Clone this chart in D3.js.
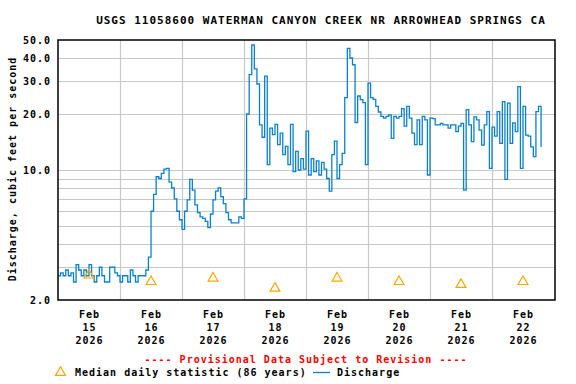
<!DOCTYPE html>
<html>
<head>
<meta charset="utf-8">
<script src="https://cdn.jsdelivr.net/npm/d3@7"></script>
<style>
	body { margin: 0; background: #ffffff; }
	svg text { font-family: "DejaVu Sans Mono", "Liberation Mono", monospace; font-weight: bold; }
</style>
</head>
<body>
<svg id="chart" width="576" height="384"></svg>
<script>
// station / labels
var chartTitle = "USGS 11058600 WATERMAN CANYON CREEK NR ARROWHEAD SPRINGS CA";
var yTitle = "Discharge, cubic feet per second";
var yTickValues = [2, 10, 20, 30, 40, 50];
var yGridValues = [3, 4, 5, 6, 7, 8, 9, 10, 20, 30, 40];
var dayLabels = ["15", "16", "17", "18", "19", "20", "21", "22"];

// median daily statistic, one per day (noon)
var medianValues = [2.72, 2.51, 2.62, 2.31, 2.62, 2.51, 2.42, 2.51];

// discharge, hourly from Feb 15 2026 00:00
var discharge = [
	2.7, 2.8, 2.7, 2.9, 2.7, 2.8, 2.5, 3.1, 2.9, 2.7, 2.9, 2.7, 3.1, 2.7, 2.5, 2.7, 3.0, 2.7, 2.5, 2.5, 3.0, 3.0, 2.8, 2.7,
	2.5, 2.7, 2.7, 2.5, 2.9, 2.7, 2.5, 2.7, 2.7, 2.7, 2.9, 3.4, 6.0, 7.4, 9.2, 9.0, 9.6, 10.1, 10.2, 8.6, 8.0, 7.0, 6.0, 5.4,
	4.8, 6.0, 6.9, 8.9, 7.8, 6.5, 5.9, 5.6, 5.5, 5.3, 4.9, 5.8, 6.9, 7.7, 8.0, 7.2, 6.6, 5.9, 5.4, 5.2, 5.2, 5.2, 5.6, 5.5,
	7.0, 20.0, 32.6, 47.0, 35.0, 29.0, 17.5, 15.0, 32.0, 10.7, 16.8, 15.5, 17.6, 13.7, 15.8, 12.1, 13.4, 10.7, 17.6, 9.8, 12.6, 10.0, 11.5, 10.1,
	16.2, 9.4, 11.5, 9.8, 11.2, 9.4, 11.0, 10.1, 9.0, 7.7, 12.1, 14.3, 9.0, 10.7, 12.3, 24.5, 45.1, 40.0, 36.8, 18.0, 25.0, 23.9, 23.0, 10.7,
	29.3, 24.5, 24.0, 22.0, 20.5, 19.4, 19.0, 19.4, 19.8, 14.8, 19.4, 19.0, 19.4, 21.4, 17.2, 22.0, 19.0, 15.8, 13.7, 18.6, 13.7, 19.4, 18.6, 9.4,
	19.0, 18.9, 17.5, 17.5, 17.8, 17.5, 17.5, 16.8, 17.5, 17.5, 16.1, 17.2, 17.8, 7.8, 21.1, 17.5, 14.2, 19.3, 18.6, 16.4, 13.6, 17.5, 20.6, 10.2,
	17.0, 15.2, 20.6, 13.9, 23.3, 8.9, 22.9, 13.9, 17.9, 16.1, 28.1, 10.2, 22.0, 15.4, 15.2, 13.3, 11.8, 20.6, 22.0, 13.3
];

var startDate = new Date(2026, 1, 15, 0, 0);
var endDate = new Date(2026, 1, 23, 0, 0);

var svg = d3.select("#chart");

var x = d3.scaleTime().domain([startDate, endDate]).range([58, 554]);
var y = d3.scaleLog().domain([2, 50]).range([300, 40]);

var days = d3.timeDay.range(startDate, endDate);

// clip for the plot area
svg.append("clipPath")
	.attr("id", "plotclip")
	.append("rect")
	.attr("x", 58)
	.attr("y", 40)
	.attr("width", 497)
	.attr("height", 260);

// grid lines
svg.append("g")
	.selectAll("line")
	.data(yGridValues)
	.enter().append("line")
	.attr("x1", 58)
	.attr("x2", 555)
	.attr("y1", function (d) { return Math.round(y(d)) + 0.5; })
	.attr("y2", function (d) { return Math.round(y(d)) + 0.5; })
	.attr("stroke", "#c8c8c8")
	.attr("stroke-width", 1.2);

svg.append("g")
	.selectAll("line")
	.data(days.slice(1))
	.enter().append("line")
	.attr("x1", function (d) { return Math.round(x(d)) + 0.5; })
	.attr("x2", function (d) { return Math.round(x(d)) + 0.5; })
	.attr("y1", 40)
	.attr("y2", 300)
	.attr("stroke", "#c8c8c8")
	.attr("stroke-width", 1.2);

// discharge line
var points = discharge.map(function (v, i) {
	return { date: d3.timeHour.offset(startDate, i), value: v };
});

var line = d3.line()
	.x(function (d) { return x(d.date); })
	.y(function (d) { return y(d.value); })
	.curve(d3.curveStepAfter);

svg.append("path")
	.datum(points)
	.attr("clip-path", "url(#plotclip)")
	.attr("d", line)
	.attr("fill", "none")
	.attr("stroke", "#0a80d0")
	.attr("stroke-width", 1.3);

// median triangles
var tri = d3.symbol().type(d3.symbolTriangle).size(42);
svg.append("g")
	.selectAll("path")
	.data(medianValues)
	.enter().append("path")
	.attr("d", tri)
	.attr("transform", function (d, i) {
		return "translate(" + x(d3.timeHour.offset(days[i], 12)) + "," + y(d) + ")";
	})
	.attr("fill", "none")
	.attr("stroke", "#ffa500")
	.attr("stroke-width", 1.2);

// frame
svg.append("rect")
	.attr("x", 58)
	.attr("y", 40)
	.attr("width", 497)
	.attr("height", 260)
	.attr("fill", "none")
	.attr("stroke", "#000000")
	.attr("stroke-width", 1.5);

// y tick labels
svg.append("g")
	.selectAll("text")
	.data(yTickValues)
	.enter().append("text")
	.attr("x", 51)
	.attr("y", function (d) { return y(d) + 4; })
	.attr("text-anchor", "end")
	.attr("font-size", "10px")
	.attr("letter-spacing", "1px")
	.text(function (d) { return d.toFixed(1); });

// x tick labels
var xl = svg.append("g")
	.selectAll("text")
	.data(days)
	.enter().append("text")
	.attr("text-anchor", "middle")
	.attr("font-size", "10px")
	.attr("letter-spacing", "1px")
	.attr("transform", function (d) { return "translate(" + (x(d3.timeHour.offset(d, 12)) + 0.5) + ",0)"; });

xl.append("tspan").attr("x", 0).attr("y", 318).text("Feb");
xl.append("tspan").attr("x", 0).attr("y", 331).text(function (d, i) { return dayLabels[i]; });
xl.append("tspan").attr("x", 0).attr("y", 344).text("2026");

// title
svg.append("text")
	.attr("x", 321)
	.attr("y", 24)
	.attr("text-anchor", "middle")
	.attr("font-size", "11px")
	.attr("letter-spacing", "1px")
	.text(chartTitle);

// y axis title
svg.append("text")
	.attr("transform", "translate(16,169) rotate(-90)")
	.attr("text-anchor", "middle")
	.attr("font-size", "10px")
	.attr("letter-spacing", "1px")
	.text(yTitle);

// provisional note
svg.append("text")
	.attr("x", 306)
	.attr("y", 363)
	.attr("text-anchor", "middle")
	.attr("font-size", "10px")
	.attr("letter-spacing", "1px")
	.attr("fill", "#ff0000")
	.text("---- Provisional Data Subject to Revision ----");

// legend
svg.append("path")
	.attr("d", tri)
	.attr("transform", "translate(60.5,372.5)")
	.attr("fill", "none")
	.attr("stroke", "#ffa500")
	.attr("stroke-width", 1.2);

svg.append("text")
	.attr("x", 75)
	.attr("y", 376)
	.attr("font-size", "10px")
	.attr("letter-spacing", "1px")
	.text("Median daily statistic (86 years)");

svg.append("line")
	.attr("x1", 313)
	.attr("x2", 330)
	.attr("y1", 372.5)
	.attr("y2", 372.5)
	.attr("stroke", "#0a80d0")
	.attr("stroke-width", 1.3);

svg.append("text")
	.attr("x", 337)
	.attr("y", 376)
	.attr("font-size", "10px")
	.attr("letter-spacing", "1px")
	.text("Discharge");
</script>
</body>
</html>
